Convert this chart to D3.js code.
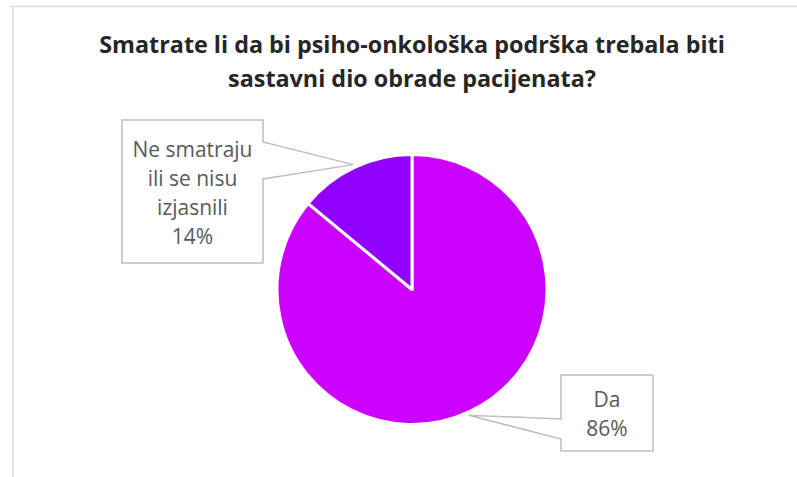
<!DOCTYPE html>
<html>
<head>
<meta charset="utf-8">
<script src="https://cdn.jsdelivr.net/npm/d3@7"></script>
<style>
  html, body { margin: 0; padding: 0; background: #fff; }
  svg { display: block; }
</style>
</head>
<body>
<svg id="chart" width="797" height="477"></svg>
<script>
// ---- data ----
const titleLines = ["Smatrate li da bi psiho-onkološka podrška trebala biti", "sastavni dio obrade pacijenata?"];
const categories = ["Da", "Ne smatraju ili se nisu izjasnili"];
const values = [86, 14];
const labelLines = [["Da", "86%"], ["Ne smatraju", "ili se nisu", "izjasnili", "14%"]];
const colors = ["#CC00FF", "#9100FF"];

// ---- layout ----
const W = 797, H = 477;
const cx = 412, cy = 289.5, R = 135;
const font = "'Open Sans', sans-serif";
const svg = d3.select("#chart");

// frame lines
svg.append("line").attr("x1", 10).attr("x2", W).attr("y1", 6.5).attr("y2", 6.5)
  .attr("stroke", "#dcdcdc").attr("stroke-width", 1.5);
svg.append("line").attr("x1", 13).attr("x2", 13).attr("y1", 6).attr("y2", H)
  .attr("stroke", "#dcdcdc").attr("stroke-width", 1.5);

// title
function fitText(sel, target, base) {
  const w = sel.node().getComputedTextLength();
  sel.attr("font-size", base * target / w);
}
const t1 = svg.append("text").attr("x", cx).attr("y", 53).attr("text-anchor", "middle")
  .attr("font-family", font).attr("font-weight", "bold").attr("fill", "#262626")
  .attr("font-size", 20).text(titleLines[0]);
fitText(t1, 626, 20);
const fs = +t1.attr("font-size");
svg.append("text").attr("x", cx).attr("y", 87).attr("text-anchor", "middle")
  .attr("font-family", font).attr("font-weight", "bold").attr("fill", "#262626")
  .attr("font-size", fs).text(titleLines[1]);

// pie: first slice (Da) clockwise from Ne's end; Ne sits left of 12 o'clock
const pie = d3.pie().sort(null).value(d => d)
  .startAngle(2 * Math.PI * values[1] / 100 * -1 + 0)
  .endAngle(2 * Math.PI - 2 * Math.PI * values[1] / 100);
// simpler: order so that Ne goes from -x to 0, Da from 0 to 2π - x
const total = d3.sum(values);
const neAngle = 2 * Math.PI * values[1] / total;
const pie2 = d3.pie().sort(null).value(d => d).startAngle(0).endAngle(2 * Math.PI);
const arcs = pie2(values); // Da: 0 -> 2π-ne, Ne: 2π-ne -> 2π
const arc = d3.arc().innerRadius(0).outerRadius(R);
const g = svg.append("g").attr("transform", `translate(${cx},${cy})`);
g.selectAll("path").data(arcs).join("path")
  .attr("d", arc)
  .attr("fill", (d, i) => colors[i])
  .attr("stroke", "#fff").attr("stroke-width", 3).attr("stroke-linejoin", "round");

// callouts
const boxes = [
  { x: 561, y: 375, w: 92, h: 76, side: "left", a1: 419, a2: 439, tipAngle: Math.PI * 0.865, lineY: 407, dy: 29 },
  { x: 122, y: 120, w: 141, h: 143, side: "right", a1: 142, a2: 179, tipAngle: (arcs[1].startAngle + arcs[1].endAngle) / 2, lineY: 157, dy: 29 }
];
const labelColor = "#595959";
boxes.forEach((b, i) => {
  const tx = cx + Math.sin(b.tipAngle) * (R + 3);
  const ty = cy - Math.cos(b.tipAngle) * (R + 3);
  let pts;
  if (b.side === "left") {
    pts = [[b.x, b.y], [b.x + b.w, b.y], [b.x + b.w, b.y + b.h], [b.x, b.y + b.h], [b.x, b.a2], [tx, ty], [b.x, b.a1]];
  } else {
    const rx = b.x + b.w;
    pts = [[b.x, b.y], [rx, b.y], [rx, b.a1], [tx, ty], [rx, b.a2], [rx, b.y + b.h], [b.x, b.y + b.h]];
  }
  svg.append("path").attr("d", d3.line()(pts) + "Z")
    .attr("fill", "#fff").attr("stroke", "#bfbfbf").attr("stroke-width", 1.5);
  const txt = svg.append("text").attr("text-anchor", "middle")
    .attr("font-family", font).attr("fill", labelColor).attr("font-size", 17);
  labelLines[i].forEach((l, k) => {
    txt.append("tspan").attr("x", b.x + b.w / 2).attr("y", b.lineY + k * b.dy).text(l);
  });
});
// fit label font so "Ne smatraju" is ~120px wide
const probe = svg.append("text").attr("font-family", font).attr("font-size", 17).text(labelLines[1][0]);
const pw = probe.node().getComputedTextLength();
probe.remove();
svg.selectAll("text").filter(function() { return this.getAttribute("fill") === labelColor; })
  .attr("font-size", 17 * 120 / pw);
</script>
</body>
</html>
